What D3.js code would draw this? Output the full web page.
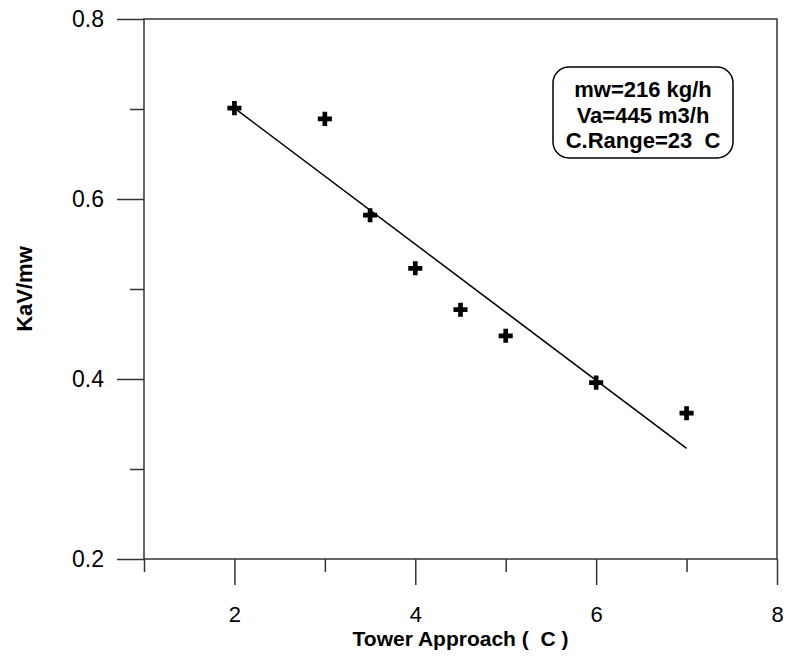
<!DOCTYPE html>
<html>
<head>
<meta charset="utf-8">
<script src="https://cdn.jsdelivr.net/npm/d3@7"></script>
<style>
  body { margin: 0; background: #fff; }
  text { font-family: Arial, "Liberation Sans", sans-serif; fill: #000; white-space: pre; }
</style>
</head>
<body>
<svg width="788" height="656"></svg>
<script>
// measured points
const approach = [2, 3, 3.5, 4, 4.5, 5, 6, 7];
const kav = [0.701, 0.689, 0.582, 0.523, 0.477, 0.448, 0.396, 0.362];
// fitted line ends
const fitX = [2, 7];
const fitY = [0.701, 0.323];
const xTicks = [2, 4, 6, 8];
const xMinor = [1, 3, 5, 7];
const yTicks = [0.2, 0.4, 0.6, 0.8];
const yMinor = [0.3, 0.5, 0.7];
const boxLines = ['mw=216 kg/h', 'Va=445 m3/h', 'C.Range=23  C'];

const svg = d3.select('svg');

// plot frame
const plotL = 144, plotR = 777, plotT = 19, plotB = 559;
const x = d3.scaleLinear().domain([1, 8]).range([plotL, plotR]);
const y = d3.scaleLinear().domain([0.2, 0.8]).range([plotB, plotT]);

svg.append('rect')
  .attr('x', plotL).attr('y', plotT)
  .attr('width', plotR - plotL).attr('height', plotB - plotT)
  .attr('fill', 'none').attr('stroke', '#333').attr('stroke-width', 1.5);

// x axis, ticks pointing down
const gx = svg.append('g').attr('transform', `translate(0,${plotB})`);
gx.call(d3.axisBottom(x).tickValues(xTicks).tickSize(26).tickPadding(21)
  .tickFormat(d3.format('d')));
gx.append('g').call(d3.axisBottom(x).tickValues(xMinor).tickSize(13).tickFormat(''));
gx.selectAll('.domain').remove();
gx.selectAll('line').attr('stroke', '#333').attr('stroke-width', 1.5);
gx.selectAll('text').style('font-size', '22px').attr('fill', '#000');

// y axis, ticks pointing left
const gy = svg.append('g').attr('transform', `translate(${plotL},0)`);
gy.call(d3.axisLeft(y).tickValues(yTicks).tickSize(27).tickPadding(13)
  .tickFormat(d3.format('.1f')));
gy.append('g').call(d3.axisLeft(y).tickValues(yMinor).tickSize(14).tickFormat(''));
gy.selectAll('.domain').remove();
gy.selectAll('line').attr('stroke', '#333').attr('stroke-width', 1.5);
gy.selectAll('text').style('font-size', '23px').attr('fill', '#000');

// axis titles
svg.append('text')
  .attr('x', (plotL + plotR) / 2).attr('y', 646)
  .attr('text-anchor', 'middle')
  .style('font-size', '21px').style('font-weight', 'bold')
  .text('Tower Approach (  C )');
svg.append('text')
  .attr('transform', `translate(32,${(plotT + plotB) / 2}) rotate(-90)`)
  .attr('text-anchor', 'middle')
  .style('font-size', '22px').style('font-weight', 'bold')
  .text('KaV/mw');

// fit line
svg.append('line')
  .attr('x1', x(fitX[0])).attr('y1', y(fitY[0]))
  .attr('x2', x(fitX[1])).attr('y2', y(fitY[1]))
  .attr('stroke', '#000').attr('stroke-width', 1.5);

// plus markers
const plus = d3.symbol().type(d3.symbolCross).size(110);
svg.selectAll('.pt')
  .data(approach)
  .enter()
  .append('path')
  .attr('class', 'pt')
  .attr('d', plus)
  .attr('transform', (d, i) => `translate(${x(d)},${y(kav[i])})`)
  .attr('fill', '#000');

// info box
svg.append('rect')
  .attr('x', 553).attr('y', 67).attr('width', 180).attr('height', 91)
  .attr('rx', 16).attr('ry', 16)
  .attr('fill', '#fff').attr('stroke', '#000').attr('stroke-width', 1.5);
svg.selectAll('.info')
  .data(boxLines)
  .enter()
  .append('text')
  .attr('class', 'info')
  .attr('x', 643)
  .attr('y', (d, i) => 97 + i * 25.5)
  .attr('text-anchor', 'middle')
  .style('font-size', '22px').style('font-weight', 'bold')
  .text(d => d);
</script>
</body>
</html>
